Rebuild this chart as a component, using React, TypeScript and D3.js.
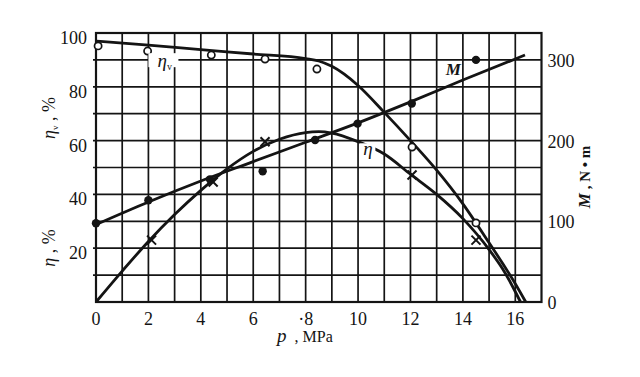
import React from "react";
import * as d3 from "d3";

// ---- data ----
const xTicks = [0, 2, 4, 6, 8, 10, 12, 14, 16];
const xTickLabels = ["0", "2", "4", "6", "·8", "10", "12", "14", "16"];
const leftTicks = [20, 40, 60, 80, 100];
const rightTicks = [0, 100, 200, 300];

// ηv (volumetric efficiency, %) — smooth curve and measured open circles
const etaVCurveP = [0, 2, 4, 6, 8, 8.5, 9, 10, 11, 12, 13, 14, 15, 16, 16.4];
const etaVCurveV = [97, 95.5, 93.8, 92.2, 90.5, 89.6, 87.6, 80.5, 70.5, 60, 49, 36.5, 22, 6.8, 0];
const etaVPtsP = [0.08, 1.97, 4.4, 6.45, 8.43, 12.06, 14.5];
const etaVPtsV = [95.2, 93.3, 91.8, 90.3, 86.6, 57.6, 29.4];

// η (overall efficiency, %) — smooth curve and measured crosses
const etaCurveP = [0, 1, 2, 3, 4, 5, 6, 7, 8, 8.5, 9, 10, 11, 12, 13, 14, 15, 15.6, 16.2];
const etaCurveV = [0, 11.5, 22.5, 32.5, 41.5, 49.5, 56, 60.5, 63, 63.3, 62.8, 59.6, 55, 47.5, 40, 31, 19.5, 11, 0];
const etaPtsP = [2.12, 4.47, 6.45, 12.06, 14.5];
const etaPtsV = [23, 44.6, 59.6, 47.2, 23];

// M (torque, N·m) — smooth curve and measured filled dots
const mCurveP = [0, 2, 4, 6, 8, 10, 12, 14, 16.37];
const mCurveV = [96, 124, 150, 174, 198, 222, 248, 275, 306];
const mPtsP = [0, 2, 4.35, 6.36, 8.36, 9.98, 12.05, 14.5];
const mPtsV = [97.5, 126, 152, 162, 200.7, 221, 246, 300];

const W = 640;
const H = 377;
const INK = "#141414";
const SERIF = "'Liberation Serif', 'DejaVu Serif', serif";

export default function App() {
  const x = d3.scaleLinear().domain([0, 17]).range([96, 541.5]);
  const yL = d3.scaleLinear().domain([0, 100]).range([302, 33]);
  const yR = d3.scaleLinear().domain([0, 1000 / 3]).range([302, 33]);

  const gridX = d3.range(1, 17);
  const gridY = d3.range(10, 100, 10);

  const mk = (ps: number[], vs: number[]) => ps.map((p, i) => [p, vs[i]] as [number, number]);

  const lineL = d3
    .line<[number, number]>()
    .x((d) => x(d[0]))
    .y((d) => yL(d[1]))
    .curve(d3.curveMonotoneX);
  const lineR = d3
    .line<[number, number]>()
    .x((d) => x(d[0]))
    .y((d) => yR(d[1]))
    .curve(d3.curveMonotoneX);

  const [x0, x1] = x.range();
  const [yb, yt] = yL.range();

  return (
    <svg
      width={W}
      height={H}
      style={{ position: "absolute", left: 0, top: 0, background: "#fff" }}
      fontFamily={SERIF}
    >
      <rect x={0} y={0} width={W} height={H} fill="#fff" />
      {/* grid */}
      <g stroke={INK} strokeWidth={1.7}>
        {gridX.map((g) => (
          <line key={"gx" + g} x1={x(g)} x2={x(g)} y1={yt} y2={yb} />
        ))}
        {gridY.map((g) => (
          <line key={"gy" + g} x1={x0 - 3} x2={x1} y1={yL(g)} y2={yL(g)} />
        ))}
      </g>
      {/* frame */}
      <rect x={x0} y={yt} width={x1 - x0} height={yb - yt} fill="none" stroke={INK} strokeWidth={2.2} />

      {/* curves */}
      <g fill="none" stroke={INK} strokeWidth={2.8} strokeLinejoin="round">
        <path d={lineL(mk(etaVCurveP, etaVCurveV)) || ""} />
        <path d={lineL(mk(etaCurveP, etaCurveV)) || ""} />
        <path d={lineR(mk(mCurveP, mCurveV)) || ""} />
      </g>

      {/* markers */}
      <g>
        {mk(mPtsP, mPtsV).map((d, i) => (
          <circle key={"m" + i} cx={x(d[0])} cy={yR(d[1])} r={4.2} fill={INK} />
        ))}
        {mk(etaVPtsP, etaVPtsV).map((d, i) => (
          <circle key={"v" + i} cx={x(d[0])} cy={yL(d[1])} r={3.6} fill="#fff" stroke={INK} strokeWidth={1.7} />
        ))}
        {mk(etaPtsP, etaPtsV).map((d, i) => {
          const cx = x(d[0]);
          const cy = yL(d[1]);
          const s = 4.5;
          return (
            <g key={"e" + i} stroke={INK} strokeWidth={2}>
              <line x1={cx - s} y1={cy - s} x2={cx + s} y2={cy + s} />
              <line x1={cx - s} y1={cy + s} x2={cx + s} y2={cy - s} />
            </g>
          );
        })}
      </g>

      {/* curve labels */}
      <g fill={INK}>
        <rect x={x(2.0)} y={yL(92.5)} width={30} height={14} fill="#fff" />
        <text x={x(2.35)} y={yL(87.5)} fontSize={19} fontStyle="italic">
          η<tspan fontSize={10} dy={3} fontStyle="normal">v</tspan>
        </text>
        <rect x={x(10.05)} y={yL(59)} width={16} height={14} fill="#fff" />
        <text x={x(10.2)} y={yL(54.5)} fontSize={19} fontStyle="italic">
          η
        </text>
        <text x={x(13.35)} y={yR(281)} fontSize={17} fontStyle="italic" fontWeight="bold">
          M
        </text>
      </g>

      {/* left tick labels */}
      <g fill={INK} fontSize={18} textAnchor="end">
        {leftTicks.map((t) => (
          <text key={"lt" + t} x={x0 - 9} y={yL(t) + 5} dominantBaseline="central">
            {t}
          </text>
        ))}
      </g>
      {/* right tick labels */}
      <g fill={INK} fontSize={18} textAnchor="start">
        {rightTicks.map((t) => (
          <text key={"rt" + t} x={x1 + 6} y={yR(t) + 1} dominantBaseline="central">
            {t}
          </text>
        ))}
      </g>
      {/* bottom tick labels */}
      <g fill={INK} fontSize={18} textAnchor="middle">
        {xTicks.map((t, i) => (
          <text key={"bt" + t} x={x(t)} y={325}>
            {xTickLabels[i]}
          </text>
        ))}
      </g>

      {/* axis titles */}
      <g fill={INK}>
        <text transform="translate(55,118) rotate(-90)" textAnchor="middle" fontSize={18}>
          <tspan fontStyle="italic">η</tspan>
          <tspan fontSize={9} dy={3}>v</tspan>
          <tspan dy={-3}> , %</tspan>
        </text>
        <text transform="translate(55,248) rotate(-90)" textAnchor="middle" fontSize={18}>
          <tspan fontStyle="italic">η</tspan>
          <tspan> , %</tspan>
        </text>
        <text transform="translate(590,177) rotate(-90)" textAnchor="middle" fontSize={15} fontWeight="bold">
          <tspan fontStyle="italic" fontSize={17}>M</tspan>
          <tspan> , N • m</tspan>
        </text>
        <text x={277} y={342} fontSize={16}>
          <tspan fontStyle="italic" fontSize={19}>p</tspan>
          <tspan dx={8}>, MPa</tspan>
        </text>
      </g>
    </svg>
  );
}
